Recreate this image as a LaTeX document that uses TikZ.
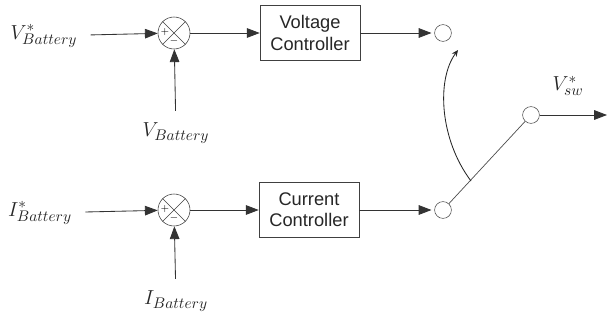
\documentclass[tikz,border=0pt]{standalone}
\usepackage{fontspec}
\setsansfont{Liberation Sans}
\usetikzlibrary{arrows.meta}

\tikzset{
	blockbox/.style={draw, black!75, text=black!85, minimum width=2.5cm, minimum height=1.38cm, align=center, font=\sffamily\fontsize{13}{15}\selectfont},
	sumnode/.style={draw, black!75, circle, minimum size=0.8cm, inner sep=0pt},
	port/.style={draw, black!70, circle, minimum size=0.42cm, inner sep=0pt},
	lbl/.style={text=black!85, font=\fontsize{15}{17}\selectfont},
	sig/.style={-{Triangle[length=3.2mm,width=2.4mm]}, black!80, line width=0.6pt}
}

\begin{document}
\begin{tikzpicture}[x=0.025cm, y=-0.025cm]
		\useasboundingbox (0,0) rectangle (609,322);
		% voltage loop
		\node[lbl] (Vref) at (44,36) {$V^{*}_{Battery}$};
		\node[sumnode] (sumV) at (174,33) {};
		\draw[black!75] (sumV.north west) -- (sumV.south east) (sumV.north east) -- (sumV.south west);
		\node[font=\scriptsize] at (165,32) {$+$};
		\node[font=\scriptsize] at (174,41) {$-$};
		\node[lbl] (Vbat) at (176,133) {$V_{Battery}$};
		\node[blockbox] (VC) at (310,33) {Voltage\\Controller};
		\node[port] (pV) at (443,33) {};
		\draw[sig, shorten <=6pt] (Vref) -- (sumV);
		\draw[sig, shorten <=5pt] (Vbat) -- (sumV);
		\draw[sig] (sumV) -- (VC);
		\draw[sig, shorten >=2pt] (VC) -- (pV);
		% current loop
		\node[lbl] (Iref) at (40,213) {$I^{*}_{Battery}$};
		\node[sumnode] (sumI) at (174,210) {};
		\draw[black!75] (sumI.north west) -- (sumI.south east) (sumI.north east) -- (sumI.south west);
		\node[font=\scriptsize] at (165,209) {$+$};
		\node[font=\scriptsize] at (174,218) {$-$};
		\node[lbl] (Ibat) at (176,301) {$I_{Battery}$};
		\node[blockbox] (CC) at (309,210) {Current\\Controller};
		\node[port] (pI) at (443,210) {};
		\draw[sig, shorten <=6pt] (Iref) -- (sumI);
		\draw[sig, shorten <=5pt] (Ibat) -- (sumI);
		\draw[sig] (sumI) -- (CC);
		\draw[sig, shorten >=2pt] (CC) -- (pI);
		% switch
		\node[port] (pO) at (531,115) {};
		\coordinate (out) at (607,115);
		\coordinate (arcA) at (471,181);
		\coordinate (arcB) at (458,50);
		\node[lbl] (Vsw) at (568,86) {$V^{*}_{sw}$};
		\draw[black!70, line width=0.5pt] (pI) -- (pO);
		\draw[black!85, line width=0.6pt, -{Stealth[length=1.6mm,width=1.4mm]}] (arcA) .. controls (440,140) and (436,80) .. (arcB);
		\draw[sig] (pO) -- (out);
	\end{tikzpicture}
\end{document}
